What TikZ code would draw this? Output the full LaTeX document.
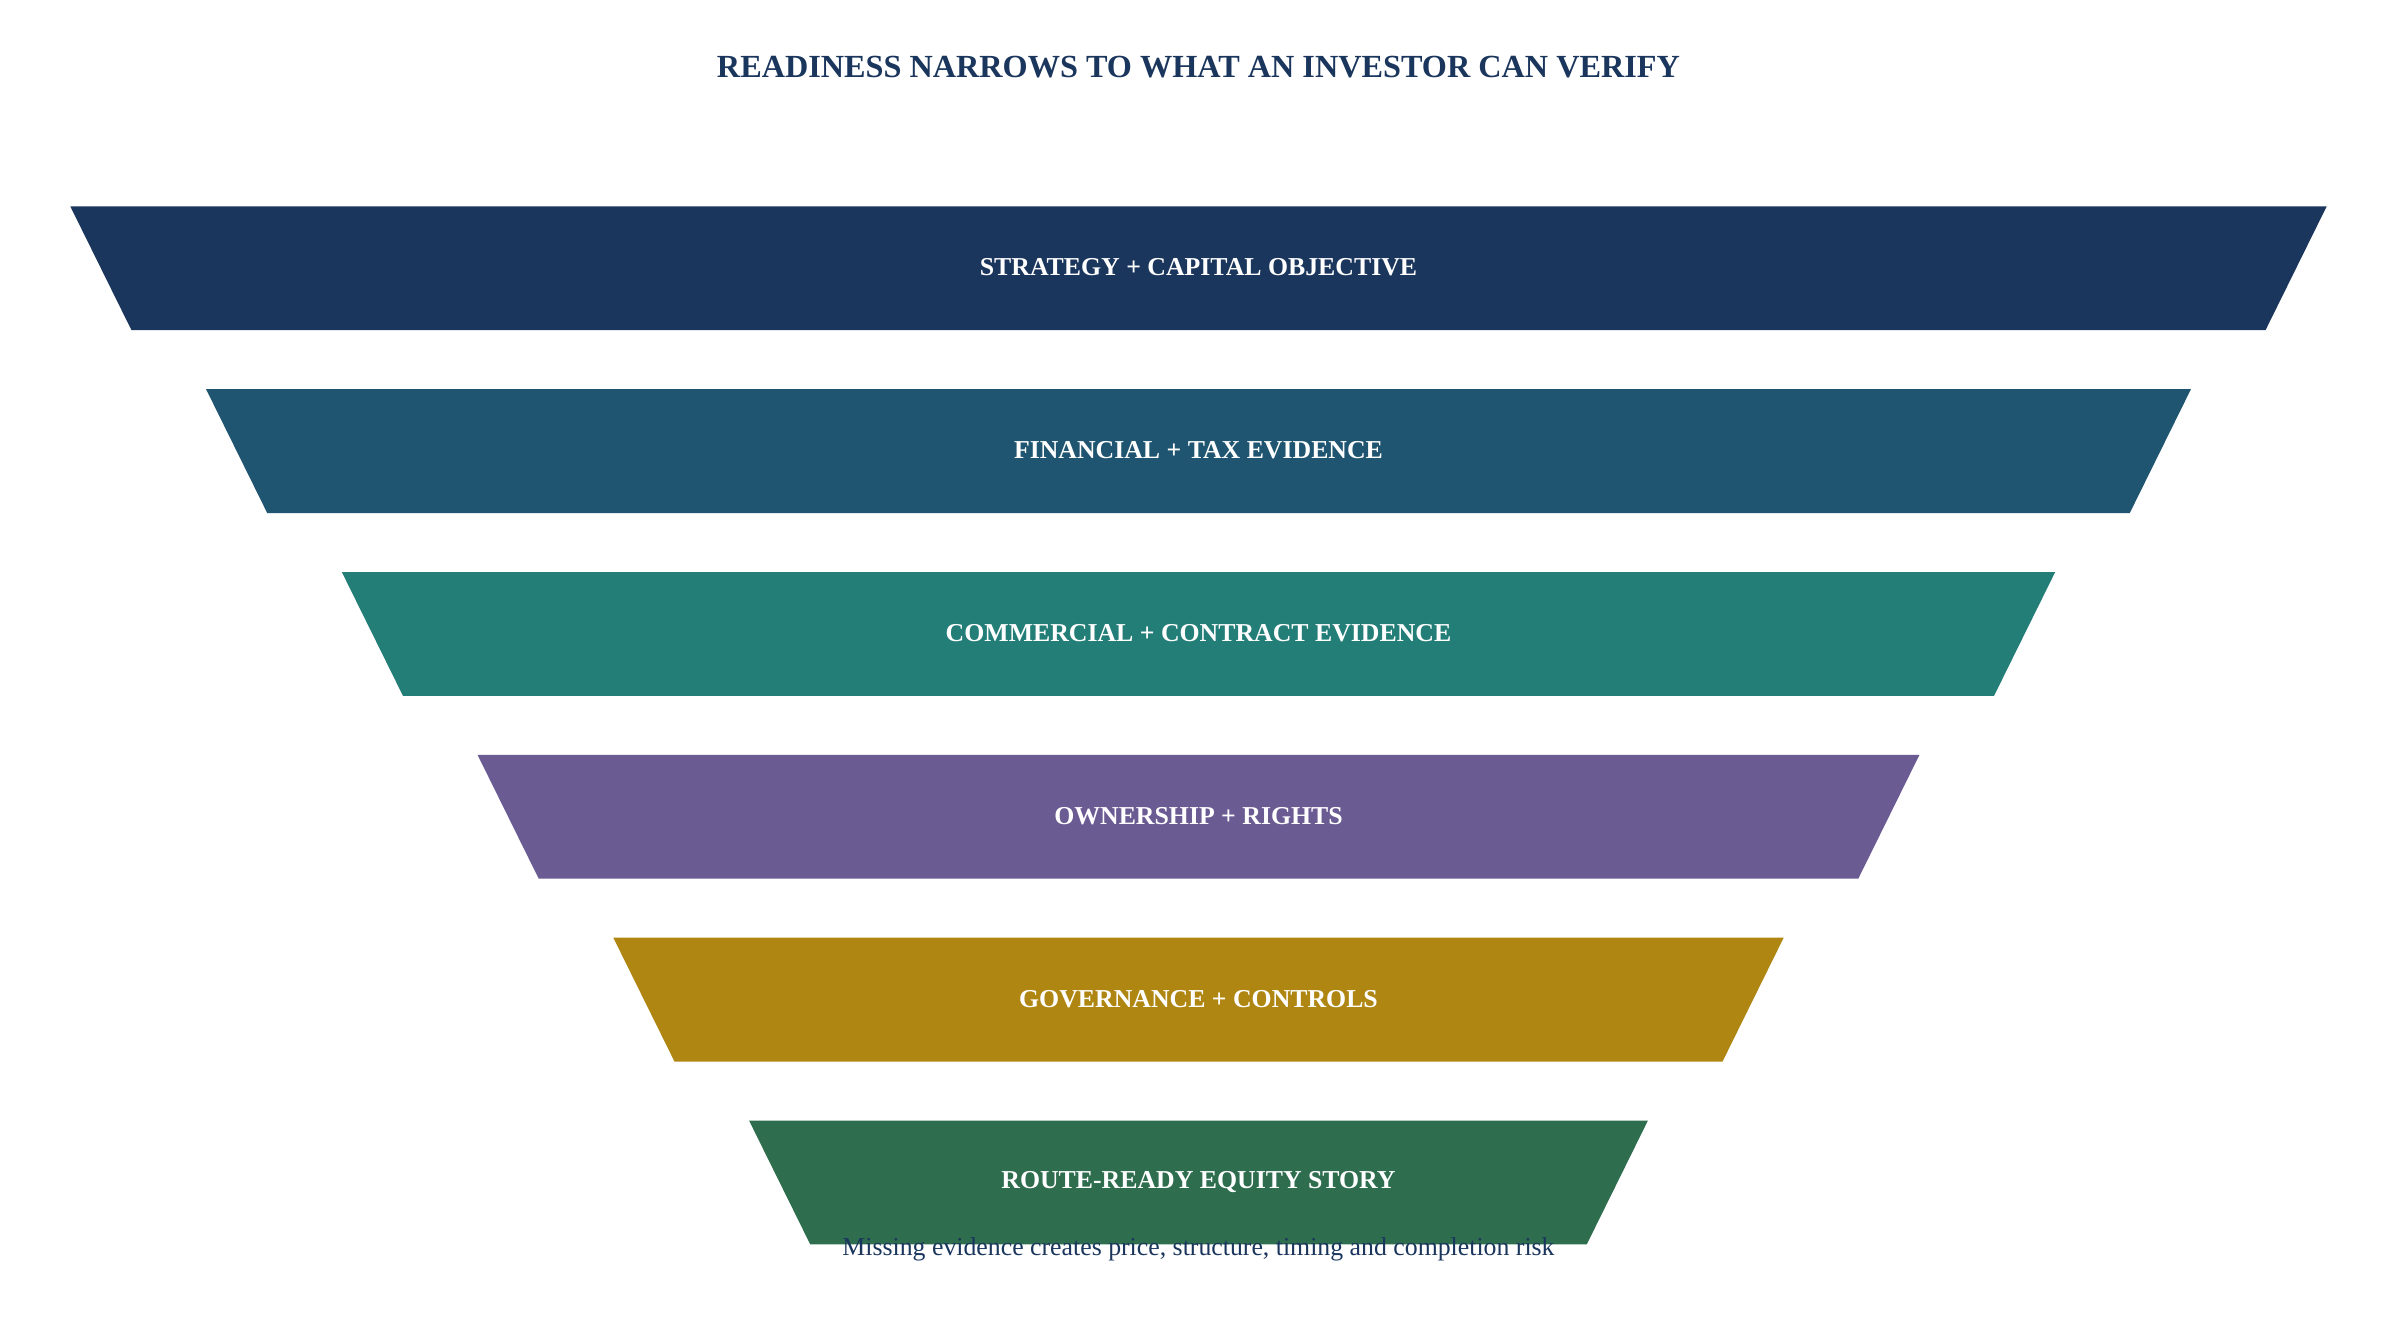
\documentclass[tikz,border=0pt]{standalone}
\usepackage{fontspec}
\setmainfont{Liberation Serif}
\definecolor{navy}{HTML}{1B365D}
\definecolor{petrol}{HTML}{1F5570}
\definecolor{teal}{HTML}{247E78}
\definecolor{plum}{HTML}{6B5B93}
\definecolor{ochre}{HTML}{B08613}
\definecolor{forest}{HTML}{2E6E4F}
\begin{document}
\begin{tikzpicture}[x=0.025cm, y=-0.025cm, band label/.style={text=white, font=\fontsize{12}{14}\selectfont\bfseries}]
\useasboundingbox (0,0) rectangle (1568,878);
\node[text=navy, font=\fontsize{15}{18}\selectfont\bfseries] (title) at (784,44) {READINESS NARROWS TO WHAT AN INVESTOR CAN VERIFY};
\foreach \i/\col/\txt in {0/navy/STRATEGY + CAPITAL OBJECTIVE, 1/petrol/FINANCIAL + TAX EVIDENCE, 2/teal/COMMERCIAL + CONTRACT EVIDENCE, 3/plum/OWNERSHIP + RIGHTS, 4/ochre/GOVERNANCE + CONTROLS, 5/forest/ROUTE-READY EQUITY STORY}{
  \pgfmathsetmacro{\yt}{135+119.6*\i}
  \pgfmathsetmacro{\xl}{46+88.8*\i}
  \pgfmathsetmacro{\xr}{1522-88.8*\i}
  \fill[\col] (\xl,\yt) -- (\xr,\yt) -- (\xr-40,\yt+81) -- (\xl+40,\yt+81) -- cycle;
  \node[band label] (band\i) at (784,\yt+40) {\txt};
}
\node[text=navy, font=\fontsize{12}{14}\selectfont] (note) at (784,817) {Missing evidence creates price, structure, timing and completion risk};
\end{tikzpicture}
\end{document}
